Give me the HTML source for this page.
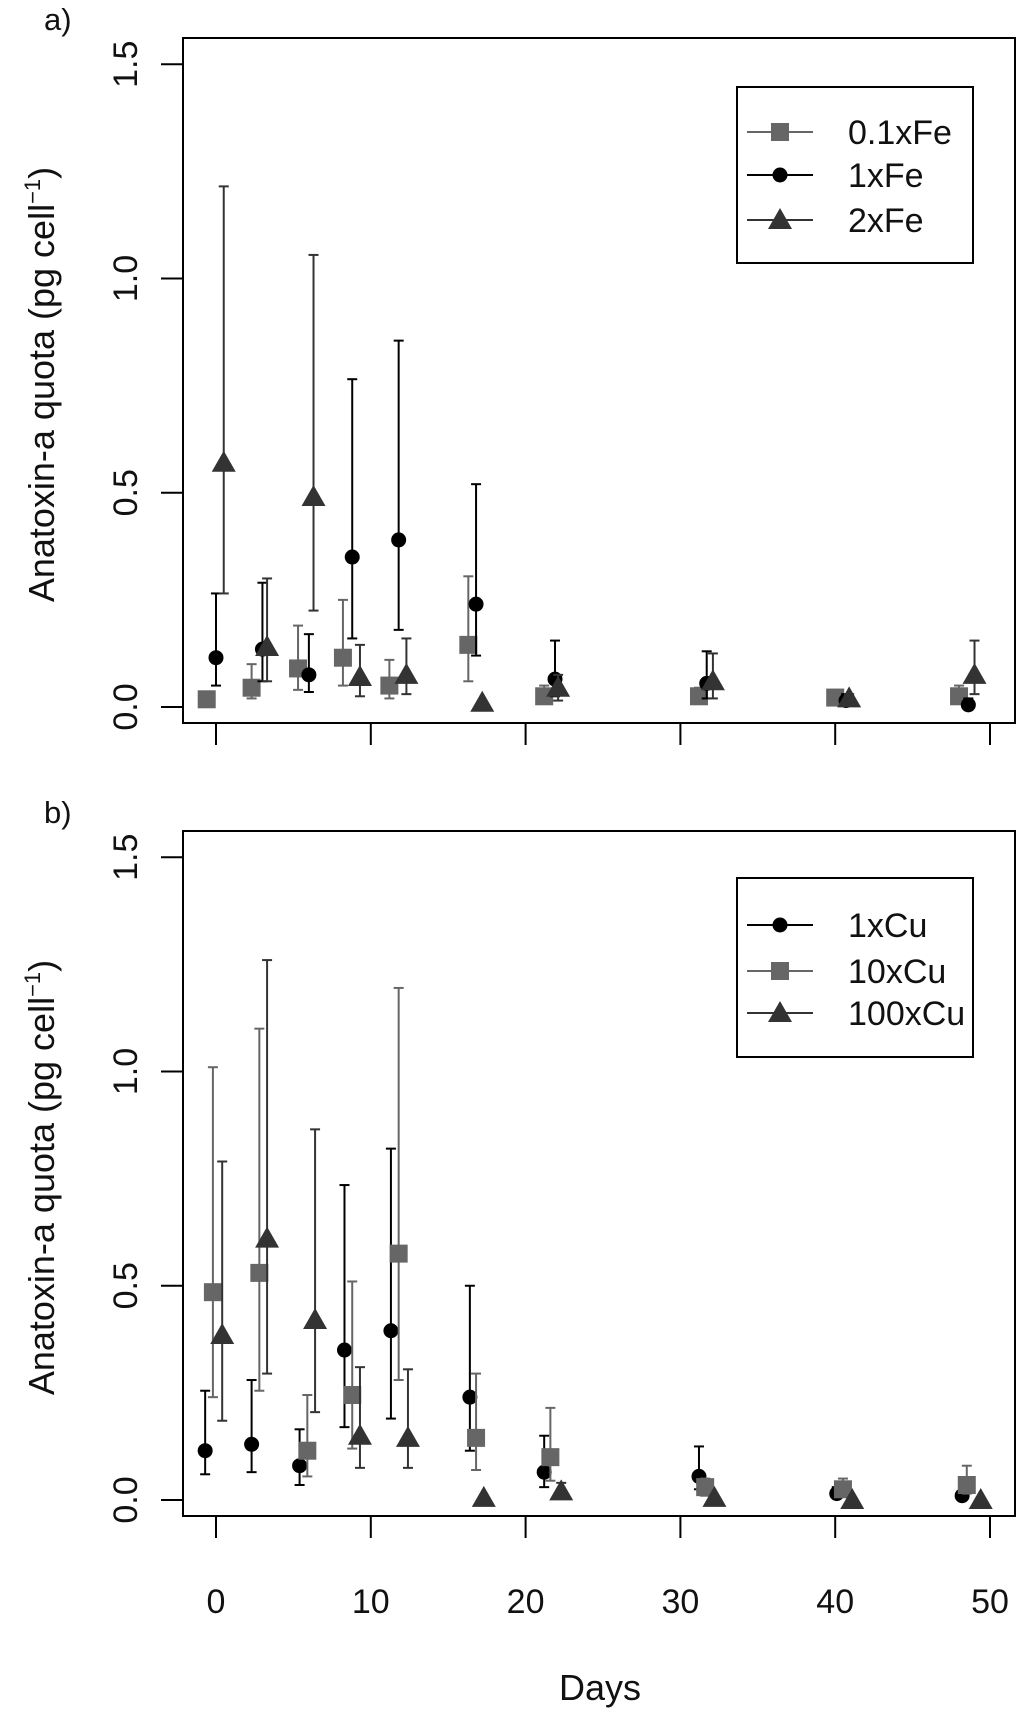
<!DOCTYPE html>
<html><head><meta charset="utf-8"><style>
html,body{margin:0;padding:0;background:#fff;}
svg{display:block;font-family:"Liberation Sans",Arial,sans-serif;}
</style></head><body>
<svg id="chart" width="1024" height="1719" viewBox="0 0 1024 1719" xmlns="http://www.w3.org/2000/svg"></svg>
<script>
// Panel a data (days, mean, low, high)
const aFe01Days=[-0.6,2.3,5.3,8.2,11.2,16.3,21.2,31.2,40,48];
const aFe01Val=[0.018,0.045,0.09,0.115,0.05,0.145,0.025,0.025,0.022,0.025];
const aFe01Lo=[0.005,0.02,0.04,0.05,0.02,0.06,0.015,0.015,0.01,0.01];
const aFe01Hi=[0.035,0.10,0.19,0.25,0.11,0.305,0.05,0.045,0.04,0.05];
const aFe1Days=[0,3,6,8.8,11.8,16.8,21.9,31.7,40.7,48.6];
const aFe1Val=[0.115,0.135,0.075,0.35,0.39,0.24,0.065,0.055,0.015,0.005];
const aFe1Lo=[0.05,0.06,0.035,0.16,0.18,0.12,0.025,0.02,0.01,0];
const aFe1Hi=[0.265,0.29,0.17,0.765,0.855,0.52,0.155,0.13,0.03,0.02];
const aFe2Days=[0.5,3.3,6.3,9.3,12.3,17.2,22.1,32.1,40.9,49];
const aFe2Val=[0.57,0.14,0.49,0.07,0.075,0.01,0.045,0.06,0.02,0.075];
const aFe2Lo=[0.265,0.06,0.225,0.025,0.03,0.01,0.015,0.02,0.015,0.03];
const aFe2Hi=[1.215,0.30,1.055,0.145,0.16,0.01,0.075,0.125,0.03,0.155];
// Panel b data
const bCu1Days=[-0.7,2.3,5.4,8.3,11.3,16.4,21.2,31.2,40.1,48.2];
const bCu1Val=[0.115,0.13,0.08,0.35,0.395,0.24,0.065,0.055,0.015,0.01];
const bCu1Lo=[0.06,0.065,0.035,0.17,0.19,0.115,0.03,0.025,0.005,0.005];
const bCu1Hi=[0.255,0.28,0.165,0.735,0.82,0.50,0.15,0.125,0.03,0.02];
const bCu10Days=[-0.2,2.8,5.9,8.8,11.8,16.8,21.6,31.6,40.5,48.5];
const bCu10Val=[0.485,0.53,0.115,0.245,0.575,0.145,0.1,0.03,0.025,0.035];
const bCu10Lo=[0.24,0.255,0.055,0.12,0.28,0.07,0.045,0.01,0.01,0.015];
const bCu10Hi=[1.01,1.10,0.245,0.51,1.195,0.295,0.215,0.05,0.05,0.08];
const bCu100Days=[0.4,3.3,6.4,9.3,12.4,17.3,22.3,32.2,41.1,49.4];
const bCu100Val=[0.385,0.61,0.42,0.15,0.145,0.005,0.02,0.005,0,0];
const bCu100Lo=[0.185,0.295,0.205,0.075,0.075,0.005,0.01,0.005,0,0];
const bCu100Hi=[0.79,1.26,0.865,0.31,0.305,0.005,0.04,0.005,0,0];
const xTicks=[0,10,20,30,40,50];
const yTicks=[0,0.5,1,1.5];
const yTickLabels=["0.0","0.5","1.0","1.5"];

const NS="http://www.w3.org/2000/svg";
const svg=document.getElementById('chart');
function el(tag,attrs,parent,text){const e=document.createElementNS(NS,tag);for(const k in attrs)e.setAttribute(k,attrs[k]);if(text!==undefined)e.textContent=text;(parent||svg).appendChild(e);return e;}
const xS=d=>216+d*15.48;
function drawMarker(g,shape,x,y,color){
  let m;
  if(shape==='sq'){m=el('rect',{x:x-9,y:y-9,width:18,height:18,fill:color},g);}
  else if(shape==='ci'){m=el('circle',{cx:x,cy:y,r:7.5,fill:color},g);}
  else{m=el('polygon',{points:`${x},${y-12} ${x-12},${y+9} ${x+12},${y+9}`,fill:color},g);}
  
  
}
function panel(name,top,y0,label,series,legend){
  const yS=v=>y0-v*428.5;
  const g=el('g',{},svg);
  
  
  const t=el('text',{x:44,y:top-8,'font-size':31,fill:'#111'},g,label);
  
  const boxB=y0+16;
  const box=el('rect',{x:183,y:top,width:832,height:boxB-top,fill:'none',stroke:'#000','stroke-width':2},g);
  
  yTicks.forEach((v,i)=>{const yy=yS(v);
    const tk=el('line',{x1:161,x2:183,y1:yy,y2:yy,stroke:'#000','stroke-width':2},g);
    
    const tl=el('text',{x:137,y:yy,'font-size':34,'text-anchor':'middle',fill:'#111',transform:`rotate(-90 137 ${yy})`},g,yTickLabels[i]);
    
  });
  xTicks.forEach(d=>{const tk=el('line',{x1:xS(d),x2:xS(d),y1:boxB,y2:boxB+22,stroke:'#000','stroke-width':2},g);
    });
  const cy=(top+boxB)/2+4;
  const yt=el('text',{x:54,y:cy,'font-size':36,'text-anchor':'middle',fill:'#111',transform:`rotate(-90 54 ${cy})`},g);
  
  yt.appendChild(document.createTextNode('Anatoxin-a quota (pg  cell'));
  el('tspan',{dy:-14,'font-size':22},yt,'\u22121');
  el('tspan',{dy:14},yt,')');
  series.forEach(s=>{
    const sg=el('g',{},g);
    
    s.days.forEach((d,i)=>{const x=xS(d);
      if(s.hi[i]>s.lo[i]){
        el('line',{x1:x,x2:x,y1:yS(s.lo[i]),y2:yS(s.hi[i]),stroke:s.color,'stroke-width':2},sg);
        el('line',{x1:x-5,x2:x+5,y1:yS(s.lo[i]),y2:yS(s.lo[i]),stroke:s.color,'stroke-width':2},sg);
        el('line',{x1:x-5,x2:x+5,y1:yS(s.hi[i]),y2:yS(s.hi[i]),stroke:s.color,'stroke-width':2},sg);
      }
      drawMarker(sg,s.shape,x,yS(s.val[i]),s.color);
    });
  });
  const lg=el('g',{},g);
  
  el('rect',{x:legend.x,y:legend.y,width:legend.w,height:legend.h,fill:'#fff',stroke:'#000','stroke-width':2},lg);
  legend.items.forEach((it,i)=>{const yy=legend.ys[i];
    const e=el('g',{},lg);
    el('line',{x1:747,x2:813,y1:yy,y2:yy,stroke:it.color,'stroke-width':2},e);
    drawMarker(e,it.shape,780,yy,it.color);
    el('text',{x:legend.tx,y:yy+12,'font-size':34,fill:'#111'},e,it.label);
  });
}
panel('panel-a',38,707,'a)',[
 {name:'series-0.1xFe',shape:'sq',color:'#666',days:aFe01Days,val:aFe01Val,lo:aFe01Lo,hi:aFe01Hi},
 {name:'series-1xFe',shape:'ci',color:'#000',days:aFe1Days,val:aFe1Val,lo:aFe1Lo,hi:aFe1Hi},
 {name:'series-2xFe',shape:'tr',color:'#333',days:aFe2Days,val:aFe2Val,lo:aFe2Lo,hi:aFe2Hi}],
 {x:737,y:87,w:236,h:176,tx:848,ys:[132,175,220],items:[
  {label:'0.1xFe',shape:'sq',color:'#666'},{label:'1xFe',shape:'ci',color:'#000'},{label:'2xFe',shape:'tr',color:'#333'}]});
panel('panel-b',831,1500,'b)',[
 {name:'series-1xCu',shape:'ci',color:'#000',days:bCu1Days,val:bCu1Val,lo:bCu1Lo,hi:bCu1Hi},
 {name:'series-10xCu',shape:'sq',color:'#666',days:bCu10Days,val:bCu10Val,lo:bCu10Lo,hi:bCu10Hi},
 {name:'series-100xCu',shape:'tr',color:'#333',days:bCu100Days,val:bCu100Val,lo:bCu100Lo,hi:bCu100Hi}],
 {x:737,y:878,w:236,h:179,tx:848,ys:[925,971,1013],items:[
  {label:'1xCu',shape:'ci',color:'#000'},{label:'10xCu',shape:'sq',color:'#666'},{label:'100xCu',shape:'tr',color:'#333'}]});
xTicks.forEach(d=>{const t=el('text',{x:xS(d),y:1613,'font-size':34,'text-anchor':'middle',fill:'#111'},svg,String(d));
 });
const xt=el('text',{x:600,y:1700,'font-size':36,'text-anchor':'middle',fill:'#111'},svg,'Days');

</script>
</body></html>
